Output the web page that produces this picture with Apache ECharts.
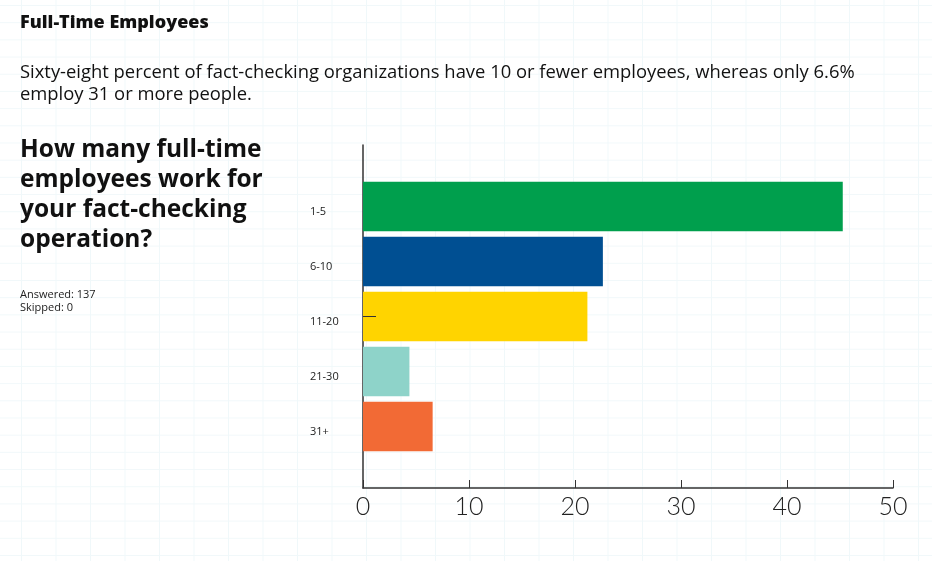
<!DOCTYPE html>
<html lang="en">
<head>
    <meta charset="UTF-8">
    <title>Full-Time Employees</title>
    <script src="https://cdn.jsdelivr.net/npm/echarts@6/dist/echarts.min.js"></script>
    <style>
        body {
            margin: 0;
            background-color: #ffffff;
            background-image:
                linear-gradient(to right, #f0f8fa 1px, transparent 1px),
                linear-gradient(to bottom, #f1f8fa 1px, transparent 1px);
            background-size: 34.5px 17.2px;
            background-position: 21px 5px;
        }
    </style>
</head>
<body>
<div id="chart" style="width: 932px;height:561px"></div>
<script>
    var chartDom = document.getElementById('chart');
    var myChart = echarts.init(chartDom);

    // survey answers (percent of respondents, n = 137)
    var categories = ['1-5', '6-10', '11-20', '21-30', '31+'];
    var percents = [45.26, 22.63, 21.17, 4.38, 6.57];
    var barColors = ['#009f4d', '#004f92', '#ffd400', '#8ed3c9', '#f26a35'];
    var xMin = 0, xMax = 50, xStep = 10;

    var axisColor = '#333333';
    var headFont = '"Open Sans", "Noto Sans", sans-serif';
    var axisFont = 'Lato, "Noto Sans", sans-serif';

    var option = {
        backgroundColor: 'transparent',
        textStyle: { fontFamily: axisFont },
        title: [{
            text: 'Full-Time Employees',
            left: 20,
            top: 14,
            padding: 0,
            textStyle: { fontSize: 18, fontWeight: 800, color: '#111', fontFamily: headFont }
        }, {
            text: 'Sixty-eight percent of fact-checking organizations have 10 or fewer employees, whereas only 6.6%\nemploy 31 or more people.',
            left: 20,
            top: 62,
            padding: 0,
            textStyle: { fontSize: 18.4, fontWeight: 'normal', color: '#111', lineHeight: 22, fontFamily: headFont }
        }, {
            text: 'How many full-time\nemployees work for\nyour fact-checking\noperation?',
            left: 20,
            top: 135,
            padding: 0,
            textStyle: { fontSize: 24.5, fontWeight: 'bold', color: '#111', lineHeight: 30, fontFamily: headFont }
        }, {
            text: 'Answered: 137\nSkipped: 0',
            left: 20,
            top: 288,
            padding: 0,
            textStyle: { fontSize: 11, fontWeight: 'normal', color: '#222', lineHeight: 13, fontFamily: headFont }
        }],
        grid: [{
            // frame for the axis lines
            left: 363,
            right: 39,
            top: 145,
            bottom: 73
        }, {
            // band area holding the bars
            left: 363,
            right: 39,
            top: 179,
            bottom: 107
        }],
        xAxis: [{
            gridIndex: 0,
            type: 'value',
            min: xMin,
            max: xMax,
            interval: xStep,
            axisLine: { show: true, lineStyle: { color: axisColor, width: 1.5 } },
            axisTick: { show: true, inside: true, length: 8, lineStyle: { color: axisColor } },
            splitLine: { show: false },
            axisLabel: {
                fontSize: 25,
                fontWeight: 300,
                color: '#222',
                margin: 6
            }
        }, {
            gridIndex: 1,
            type: 'value',
            min: xMin,
            max: xMax,
            show: false
        }],
        yAxis: [{
            gridIndex: 0,
            type: 'value',
            min: 0,
            max: 1,
            axisLine: { show: true, lineStyle: { color: axisColor, width: 1.5 } },
            axisTick: { show: false },
            axisLabel: { show: false },
            splitLine: { show: false }
        }, {
            gridIndex: 1,
            type: 'category',
            inverse: true,
            z: 5,
            data: categories,
            axisLine: { show: false },
            axisTick: {
                show: true,
                inside: true,
                length: 13,
                alignWithLabel: true,
                interval: function (index) { return index === 2; },
                lineStyle: { color: axisColor }
            },
            axisLabel: {
                align: 'left',
                verticalAlign: 'top',
                margin: 53,
                fontSize: 11,
                color: '#222',
                fontFamily: headFont
            },
            splitLine: { show: false }
        }],
        series: [{
            name: 'Full-time employees',
            type: 'bar',
            xAxisIndex: 1,
            yAxisIndex: 1,
            barCategoryGap: '10%',
            data: percents.map(function (v, i) {
                return { value: v, itemStyle: { color: barColors[i] } };
            })
        }]
    };

    option && myChart.setOption(option);
</script>
</body>
</html>
